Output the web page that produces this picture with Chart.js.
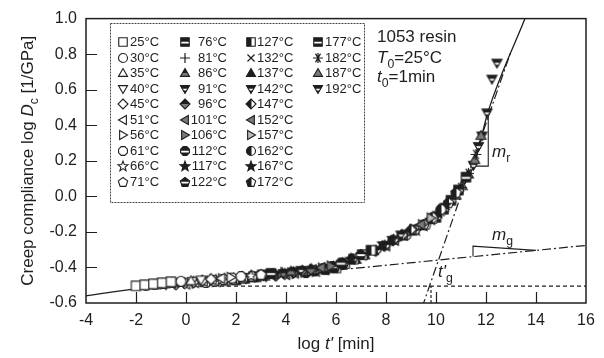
<!DOCTYPE html>
<html>
<head>
<meta charset="utf-8">
<script src="https://cdn.jsdelivr.net/npm/chart.js@4.4.0/dist/chart.umd.min.js"></script>
<style>
html,body{margin:0;padding:0;background:#fff;}
#wrap{width:604px;height:358px;position:relative;}
</style>
</head>
<body>
<div id="wrap"><canvas id="c" width="604" height="358"></canvas></div>
<script>
// ---------------- data ----------------
const temps = [25,30,35,40,45,51,56,61,66,71,76,81,86,91,96,101,106,112,117,122,127,132,137,142,147,152,157,162,167,172,177,182,187,192];
const logT = [
 [-2.0,-1.65,-1.3,-0.95,-0.6],[-1.6,-1.25,-0.9,-0.55,-0.2],[-1.2,-0.85,-0.5,-0.15,0.2],[-0.8,-0.45,-0.1,0.25,0.6],[-0.4,-0.05,0.3,0.65,1.0],
 [0.0,0.35,0.7,1.05,1.4],[0.4,0.75,1.1,1.45,1.8],[0.8,1.15,1.5,1.85,2.2],[1.2,1.55,1.9,2.25,2.6],[1.6,1.95,2.3,2.65,3.0],
 [2.0,2.35,2.7,3.05,3.4],[2.4,2.75,3.1,3.45,3.8],[2.8,3.15,3.5,3.85,4.2],[3.2,3.55,3.9,4.25,4.6],[3.6,3.95,4.3,4.65,5.0],
 [4.0,4.35,4.7,5.05,5.4],[4.4,4.75,5.1,5.45,5.8],[4.8,5.15,5.5,5.85,6.2],[5.2,5.55,5.9,6.25,6.6],[5.6,5.95,6.3,6.65,7.0],
 [6.0,6.35,6.7,7.05,7.4],[6.4,6.75,7.1,7.45,7.8],[6.8,7.15,7.5,7.85,8.2],[7.2,7.55,7.9,8.25,8.6],[7.6,7.95,8.3,8.65,9.0],
 [8.0,8.35,8.7,9.05,9.4],[8.4,8.75,9.1,9.45,9.8],[8.8,9.15,9.5,9.85,10.2],[9.2,9.5,9.8,10.1,10.4],[9.6,9.9,10.2,10.5,10.8],
 [10.0,10.3,10.6,10.9,11.2],[10.4,10.7,11.0,11.3,11.6],[10.8,11.05,11.3,11.55,11.8],[11.5,11.7,11.84,12.04,12.24,12.44]
];
const logD = [
 [-0.503,-0.497,-0.492,-0.486,-0.480],[-0.501,-0.495,-0.490,-0.484,-0.478],[-0.499,-0.493,-0.488,-0.482,-0.475],[-0.497,-0.491,-0.486,-0.478,-0.470],[-0.495,-0.489,-0.482,-0.474,-0.466],
 [-0.493,-0.485,-0.477,-0.469,-0.461],[-0.488,-0.480,-0.472,-0.464,-0.456],[-0.484,-0.476,-0.468,-0.460,-0.451],[-0.479,-0.471,-0.463,-0.454,-0.445],[-0.475,-0.467,-0.458,-0.448,-0.439],
 [-0.470,-0.461,-0.452,-0.442,-0.433],[-0.464,-0.455,-0.446,-0.436,-0.427],[-0.458,-0.449,-0.440,-0.430,-0.421],[-0.452,-0.443,-0.434,-0.425,-0.416],[-0.446,-0.437,-0.428,-0.419,-0.410],
 [-0.440,-0.431,-0.422,-0.413,-0.401],[-0.434,-0.426,-0.416,-0.404,-0.392],[-0.429,-0.419,-0.407,-0.395,-0.375],[-0.421,-0.409,-0.397,-0.376,-0.351],[-0.412,-0.400,-0.377,-0.352,-0.327],
 [-0.403,-0.378,-0.353,-0.328,-0.303],[-0.379,-0.354,-0.329,-0.304,-0.276],[-0.355,-0.330,-0.305,-0.277,-0.247],[-0.331,-0.306,-0.277,-0.247,-0.217],[-0.306,-0.278,-0.245,-0.217,-0.187],
 [-0.278,-0.247,-0.217,-0.188,-0.159],[-0.248,-0.218,-0.188,-0.160,-0.122],[-0.218,-0.189,-0.160,-0.121,-0.074],[-0.189,-0.164,-0.130,-0.092,-0.046],[-0.158,-0.124,-0.082,-0.036,0.022],
 [-0.118,-0.072,-0.022,0.036,0.108],[-0.062,-0.008,0.050,0.129,0.236],[0.006,0.059,0.125,0.206,0.342],[0.175,0.281,0.34,0.47,0.66,0.75]
];
// fitted master curve (solid)
const masterX = [-4,-2,0,2,4,5,6,7,8,9,10,11,11.5,12.09,13.56];
const masterY = [-0.56,-0.52,-0.495,-0.47,-0.44,-0.425,-0.40,-0.345,-0.28,-0.205,-0.12,0.04,0.17,0.479,1.0];
// glassy asymptote (dash-dot)
const glassyX = [-2,16];
const glassyY = [-0.527,-0.276];
// rubbery asymptote (dash-dot)
const rubberyX = [9.44,13.0];
const rubberyY = [-0.626,0.816];
// reference level (dashed)
const baseX = [-2,16];
const baseY = [-0.505,-0.505];
const tgX = [9.8,9.8];
const tgY = [-0.6,-0.505];
// slope triangles
const mgX = [11.48,11.48,14.0];
const mgY = [-0.339,-0.28,-0.304];
const mrX = [12.09,12.09,11.48];
const mrY = [0.479,0.17,0.17];
// axis ticks
const xTicks = [-4,-2,0,2,4,6,8,10,12,14,16];
const yTicks = [-0.6,-0.4,-0.2,0.0,0.2,0.4,0.6,0.8,1.0];

// ---------------- marker styles ----------------
const DARK = '#1e1e1e', GREY = '#7a7a7a', LIGHT = '#bdbdbd';
const shapes = ['square','circle','triUp','triDown','diamond','triLeft','triRight','hexagon','star','pentagon',
 'square','plus','triUp','triDown','diamond','triLeft','triRight','hexagon','star','pentagon',
 'square','cross','triUp','triDown','diamond','triLeft','triRight','circle','star','pentagon',
 'square','asterisk','triUp','triDown'];
const fills = ['open','open','open','open','open','open','open','open','open','open',
 'bar','line','topDark','bar','topDark','grey','grey','bar','solid','bar',
 'leftDark','line','solid','bar','leftDark','grey','light','leftDark','solid','leftDark',
 'bar','line','grey','bar'];

function polyPath(g, pts){ g.beginPath(); g.moveTo(pts[0][0],pts[0][1]); for(let i=1;i<pts.length;i++) g.lineTo(pts[i][0],pts[i][1]); g.closePath(); }
function regular(cx,cy,r,n,rot){ const p=[]; for(let i=0;i<n;i++){const a=rot+i*2*Math.PI/n; p.push([cx+r*Math.cos(a), cy+r*Math.sin(a)]);} return p; }
function shapePath(g, shape, cx, cy, r){
  switch(shape){
    case 'square': g.beginPath(); g.rect(cx-r*0.85, cy-r*0.85, r*1.7, r*1.7); break;
    case 'circle': g.beginPath(); g.arc(cx,cy,r*0.9,0,Math.PI*2); break;
    case 'triUp': polyPath(g, regular(cx,cy+r*0.15,r*1.05,3,-Math.PI/2)); break;
    case 'triDown': polyPath(g, regular(cx,cy-r*0.15,r*1.05,3,Math.PI/2)); break;
    case 'triLeft': polyPath(g, regular(cx+r*0.15,cy,r*1.05,3,Math.PI)); break;
    case 'triRight': polyPath(g, regular(cx-r*0.15,cy,r*1.05,3,0)); break;
    case 'diamond': polyPath(g, [[cx,cy-r],[cx+r,cy],[cx,cy+r],[cx-r,cy]]); break;
    case 'hexagon': polyPath(g, regular(cx,cy,r*0.95,8,Math.PI/8)); break;
    case 'pentagon': polyPath(g, regular(cx,cy+r*0.08,r*0.98,5,-Math.PI/2)); break;
    case 'star': { const p=[]; for(let i=0;i<10;i++){const a=-Math.PI/2+i*Math.PI/5; const rr=(i%2===0)?r*1.05:r*0.45; p.push([cx+rr*Math.cos(a), cy+0.08*r+rr*Math.sin(a)]);} polyPath(g,p); break; }
  }
}
function makeMarker(shape, fill, size){
  const pad=2, S=Math.ceil(size+pad*2);
  const c=document.createElement('canvas'); c.width=S; c.height=S;
  const g=c.getContext('2d');
  const cx=S/2, cy=S/2, r=size/2;
  g.strokeStyle=DARK; g.lineWidth=1.1; g.lineJoin='miter';
  if(shape==='plus'||shape==='cross'||shape==='asterisk'){
    g.lineWidth=1.2; g.beginPath();
    const angs = shape==='plus'?[0,90]:shape==='cross'?[45,135]:[0,60,120];
    const rr = r;
    angs.forEach(d=>{const a=d*Math.PI/180; g.moveTo(cx-rr*Math.cos(a), cy-rr*Math.sin(a)); g.lineTo(cx+rr*Math.cos(a), cy+rr*Math.sin(a));});
    if(shape==='asterisk'){ g.moveTo(cx, cy-rr); g.lineTo(cx, cy+rr); }
    g.stroke(); return c;
  }
  shapePath(g, shape, cx, cy, r);
  if(fill==='open'){ g.fillStyle='#fff'; g.fill(); }
  else if(fill==='solid'){ g.fillStyle=DARK; g.fill(); }
  else if(fill==='grey'){ g.fillStyle=GREY; g.fill(); }
  else if(fill==='light'){ g.fillStyle=LIGHT; g.fill(); }
  else {
    g.save(); g.clip();
    if(fill==='bar'){ g.fillStyle=DARK; g.fillRect(0,0,S,S); g.fillStyle='#fff'; g.fillRect(0,cy-r*0.05,S,r*0.35); }
    else if(fill==='topDark'){ g.fillStyle=GREY; g.fillRect(0,0,S,S); g.fillStyle=DARK; g.fillRect(0,0,S,cy); }
    else if(fill==='leftDark'){ g.fillStyle='#fff'; g.fillRect(0,0,S,S); g.fillStyle=DARK; g.fillRect(0,0,cx+0.5,S); }
    g.restore();
    shapePath(g, shape, cx, cy, r);
  }
  g.stroke();
  return c;
}
const dataMarkers = temps.map((t,i)=>makeMarker(shapes[i], fills[i], 11));
const legendMarkers = temps.map((t,i)=>makeMarker(shapes[i], fills[i], 10));

// ---------------- datasets ----------------
const xy = (xs,ys)=>xs.map((x,i)=>({x:x,y:ys[i]}));
const datasets = [];
temps.forEach((t,i)=>{
  datasets.push({label: t+'°C', data: xy(logT[i],logD[i]), showLine:false,
    pointStyle: dataMarkers[i], pointRadius:5, pointHoverRadius:5, order:0});
});
const lineDs = (label, xs, ys, dash, extra)=>Object.assign({label, data: xy(xs,ys), showLine:true, pointRadius:0,
  borderColor:DARK, borderWidth:1.2, borderDash:dash, fill:false, order:1}, extra||{});
datasets.push(lineDs('master', masterX, masterY, [], {cubicInterpolationMode:'monotone', borderWidth:1.3}));
datasets.push(lineDs('glassy', glassyX, glassyY, [9,3,2,3]));
datasets.push(lineDs('rubbery', rubberyX, rubberyY, [9,3,2,3]));
datasets.push(lineDs('base', baseX, baseY, [4,3]));
datasets.push(lineDs('tg', tgX, tgY, [3,2]));
datasets.push(lineDs('mg', mgX, mgY, [], {borderWidth:1.1}));
datasets.push(lineDs('mr', mrX, mrY, [], {borderWidth:1.1}));

// ---------------- text helpers ----------------
const FF = "'Liberation Sans', Arial, Helvetica, sans-serif";
function runsWidth(ctx, runs, size){
  let w=0; runs.forEach(r=>{ ctx.font=(r.it?'italic ':'')+(r.sub?size*0.72:size)+'px '+FF; w+=ctx.measureText(r.t).width; }); return w;
}
function drawRuns(ctx, runs, x, y, size, align){
  const w=runsWidth(ctx, runs, size);
  let cx = align==='center'? x-w/2 : align==='right'? x-w : x;
  ctx.textAlign='left'; ctx.textBaseline='alphabetic';
  runs.forEach(r=>{
    const s = r.sub? size*0.72 : size;
    ctx.font=(r.it?'italic ':'')+s+'px '+FF;
    ctx.fillText(r.t, cx, y + (r.sub? size*0.28 : 0));
    cx += ctx.measureText(r.t).width;
  });
}

const overlay = {
  id:'overlay',
  afterDatasetsDraw(chart){
    const ctx=chart.ctx, a=chart.chartArea, xs=chart.scales.x, ys=chart.scales.y;
    ctx.save();
    ctx.strokeStyle=DARK; ctx.lineWidth=1.5; ctx.setLineDash([]);
    ctx.strokeRect(a.left, a.top, a.right-a.left, a.bottom-a.top);
    ctx.lineWidth=1.2; ctx.beginPath();
    xTicks.slice(1,-1).forEach(v=>{const p=Math.round(xs.getPixelForValue(v))+0.5; ctx.moveTo(p,a.bottom); ctx.lineTo(p,a.bottom-11);});
    yTicks.slice(1,-1).forEach(v=>{const p=Math.round(ys.getPixelForValue(v))+0.5; ctx.moveTo(a.left,p); ctx.lineTo(a.left+11,p);});
    ctx.stroke();
    ctx.restore();
  },
  afterDraw(chart){
    const ctx=chart.ctx, a=chart.chartArea;
    ctx.save();
    ctx.fillStyle=DARK;
    // legend box
    ctx.strokeStyle='#444'; ctx.lineWidth=1; ctx.setLineDash([2,1]);
    ctx.strokeRect(110.5, 23.5, 254, 179);
    ctx.setLineDash([]);
    const colMark=[122.5,185,251,318], colText=[130,227,257,325], colAlign=['left','right','left','left'];
    temps.forEach((t,i)=>{
      const col=Math.floor(i/10), row=i%10;
      const y=42+row*15.55;
      const m=legendMarkers[i];
      ctx.drawImage(m, Math.round(colMark[col]-m.width/2), Math.round(y-m.height/2));
      ctx.font='13px '+FF; ctx.textAlign=colAlign[col]; ctx.textBaseline='middle';
      ctx.fillText(t+'°C', colText[col], y+0.5);
    });
    // annotation block
    drawRuns(ctx,[{t:'1053 resin'}],377,42,17,'left');
    drawRuns(ctx,[{t:'T',it:true},{t:'0',sub:true},{t:'=25°C'}],377,63,17,'left');
    drawRuns(ctx,[{t:'t',it:true},{t:'0',sub:true},{t:'=1min'}],377,82,17,'left');
    // slope labels
    drawRuns(ctx,[{t:'m',it:true},{t:'r',sub:true}],492,157,17,'left');
    drawRuns(ctx,[{t:'m',it:true},{t:'g',sub:true}],492,240,17,'left');
    drawRuns(ctx,[{t:"t'",it:true},{t:'g',sub:true}],438,277,17,'left');
    // axis titles
    drawRuns(ctx,[{t:'log '},{t:"t'",it:true},{t:' [min]'}],(a.left+a.right)/2,349,17,'center');
    ctx.translate(33,(a.top+a.bottom)/2); ctx.rotate(-Math.PI/2);
    drawRuns(ctx,[{t:'Creep compliance log '},{t:'D',it:true},{t:'c',sub:true},{t:' [1/GPa]'}],0,0,17,'center');
    ctx.restore();
  }
};

new Chart(document.getElementById('c'), {
  type:'scatter',
  data:{datasets},
  options:{
    responsive:false, animation:false, devicePixelRatio:1,
    layout:{padding:{left:0,right:18,top:12,bottom:0}},
    plugins:{legend:{display:false}, tooltip:{enabled:false}},
    scales:{
      x:{type:'linear', min:-4, max:16,
        afterBuildTicks:s=>{s.ticks=xTicks.map(v=>({value:v}));},
        afterFit:s=>{s.height=55;},
        grid:{display:false, drawTicks:false}, border:{display:false},
        ticks:{padding:8, color:DARK, font:{size:16, family:FF}, maxRotation:0, autoSkip:false, callback:v=>String(v)}},
      y:{type:'linear', min:-0.6, max:1.0,
        afterBuildTicks:s=>{s.ticks=yTicks.map(v=>({value:v}));},
        afterFit:s=>{s.width=86;},
        grid:{display:false, drawTicks:false}, border:{display:false},
        ticks:{padding:9, color:DARK, font:{size:16, family:FF}, autoSkip:false, callback:v=>(Math.abs(v)<1e-9?0:v).toFixed(1)}}
    }
  },
  plugins:[overlay]
});
</script>
</body>
</html>
